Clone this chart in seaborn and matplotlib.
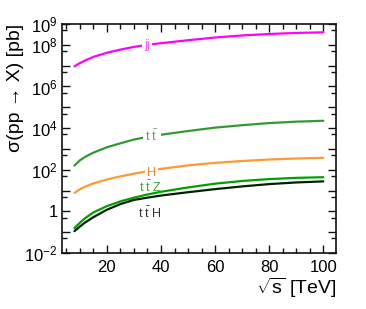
import numpy as np
import pandas as pd
import matplotlib
matplotlib.use("Agg")
import matplotlib.pyplot as plt
import seaborn as sns
from matplotlib.ticker import FixedLocator, MultipleLocator, FuncFormatter

# sqrt(s) in TeV
sqrt_s = [8, 10, 12, 15, 20, 25, 30, 35, 40, 50, 60, 70, 80, 90, 100]

# cross sections in pb
xs_jj = [9.3e6, 1.32e7, 1.78e7, 2.63e7, 4.17e7, 5.89e7, 7.94e7, 1.0e8, 1.2e8,
         1.66e8, 2.24e8, 2.82e8, 3.31e8, 3.72e8, 3.98e8]
xs_tt = [158, 282, 417, 661, 1200, 1860, 2820, 3800, 4790, 7240, 10500, 13800,
         17400, 20400, 22400]
xs_h = [7.6, 11.5, 15.5, 21.9, 33.9, 47.9, 64.6, 85.1, 110, 162, 214, 263, 309,
        347, 372]
xs_ttz = [0.158, 0.282, 0.479, 0.891, 1.78, 3.02, 4.57, 6.46, 8.71, 14.1, 21.4,
          28.8, 35.5, 40.7, 43.7]
xs_tth = [0.112, 0.186, 0.295, 0.525, 1.20, 2.24, 3.55, 4.57, 5.75, 8.32, 11.7,
          15.8, 20.4, 24.5, 27.5]

procs = ["jj", "tt", "H", "ttZ", "ttH"]
tbar = r"$\bar{\mathrm{t}}$"
labels = {"jj": "jj", "tt": "t " + tbar, "H": "H",
          "ttZ": "t " + tbar + " Z", "ttH": "t " + tbar + " H"}
# (x, y) of the text labels
label_pos = {"jj": (34.8, 1.0e8), "tt": (36.6, 4.2e3), "H": (36.6, 71),
             "ttZ": (36.0, 14.5), "ttH": (36.0, 0.83)}

line_col = {"jj": "#ff00ff", "tt": "#339933", "H": "#ff9933",
            "ttZ": "#00a000", "ttH": "#002200"}
text_col = {"jj": "#ff55ff", "tt": "#55aa55", "H": "#e88a3a",
            "ttZ": "#33aa33", "ttH": "#333333"}

df = pd.DataFrame({
    "sqrt_s": sqrt_s * 5,
    "xs": xs_jj + xs_tt + xs_h + xs_ttz + xs_tth,
    "proc": sum([[p] * len(sqrt_s) for p in procs], []),
})

sns.set_style("ticks")
plt.rcParams["font.family"] = ["Liberation Sans", "DejaVu Sans"]
plt.rcParams["mathtext.fontset"] = "custom"
plt.rcParams["mathtext.rm"] = "Liberation Sans"
plt.rcParams["mathtext.it"] = "Liberation Sans"
plt.rcParams["text.color"] = "black"
plt.rcParams["axes.labelcolor"] = "black"

fig = plt.figure(figsize=(3.66, 3.09), dpi=100)
ax = fig.add_axes([62 / 366, 56 / 309, 274 / 366, 229 / 309])

sns.lineplot(data=df, x="sqrt_s", y="xs", hue="proc", hue_order=procs,
             palette=line_col, linewidth=1.6, legend=False, ax=ax)

ax.set_yscale("log")
ax.set_xlim(3.4, 104.7)
ax.set_ylim(1e-2, 1e9)

for p in procs:
    x, y = label_pos[p]
    bbox = None
    if p in ("jj", "tt", "H"):
        bbox = dict(facecolor="white", edgecolor="none", pad=1.5)
    ax.text(x, y, labels[p], color=text_col[p], fontsize=9,
            ha="center", va="center", bbox=bbox, zorder=5)

# axes, ticks
ax.yaxis.set_major_locator(FixedLocator([10.0 ** k for k in range(-2, 10)]))
ax.yaxis.set_minor_locator(FixedLocator([5 * 10.0 ** k for k in range(-2, 9)]))
shown = {9: r"$10^9$", 8: r"$10^8$", 6: r"$10^6$", 4: r"$10^4$",
         2: r"$10^2$", 0: "1", -2: r"$10^{-2}$"}
ax.yaxis.set_major_formatter(
    FuncFormatter(lambda v, pos: shown.get(int(round(np.log10(v))), "")))
ax.xaxis.set_major_locator(MultipleLocator(20))
ax.xaxis.set_minor_locator(MultipleLocator(5))

ax.tick_params(which="both", direction="in", top=True, right=True,
               labelsize=12, color="#111111", labelcolor="black", width=1.0)
ax.tick_params(which="major", length=6)
ax.tick_params(axis="y", which="major", pad=3)
ax.tick_params(axis="x", which="major", pad=5)
ax.tick_params(which="minor", length=3.5)
for s in ax.spines.values():
    s.set_linewidth(1.2)
    s.set_color("#111111")

ax.set_xlabel(r"$\sqrt{\rm s}$ [TeV]", fontsize=14, loc="right", labelpad=1)
ax.set_ylabel("σ(pp → X) [pb]", fontsize=14, loc="top")
ax.yaxis.set_label_coords(-0.14, 1.0)

fig.savefig("out.png", dpi=100)
